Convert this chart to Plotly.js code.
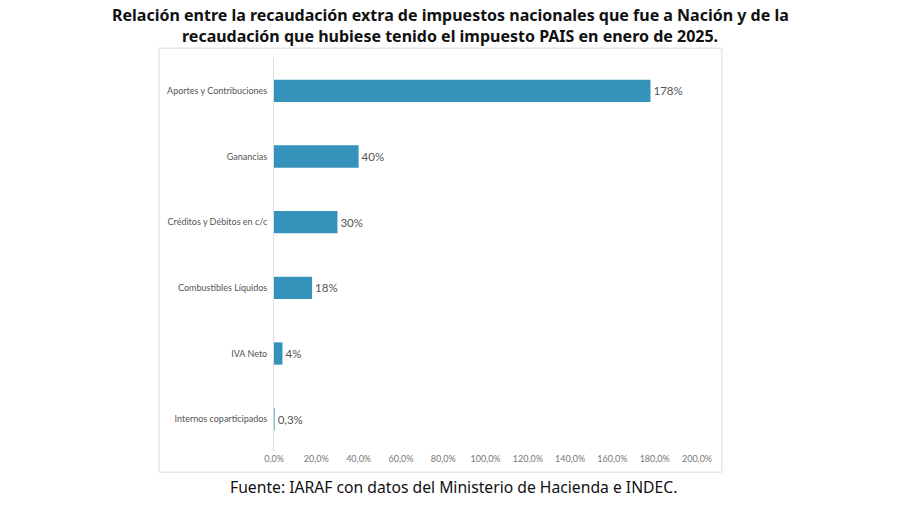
<!DOCTYPE html>
<html>
<head>
<meta charset="utf-8">
<script src="https://cdn.plot.ly/plotly-3.0.1.min.js"></script>
<style>html,body{margin:0;padding:0;background:#fff;}#chart{width:900px;height:505px;}</style>
</head>
<body>
<div id="chart"></div>
<script>
var categories = ["Aportes y Contribuciones", "Ganancias", "Créditos y Débitos en c/c", "Combustibles Líquidos", "IVA Neto", "Internos coparticipados"];
var values = [178, 40, 30, 18, 4, 0.3];
var valueLabels = ["178%", "40%", "30%", "18%", "4%", "0,3%"];
var tickValues = [0, 20, 40, 60, 80, 100, 120, 140, 160, 180, 200];
var tickLabels = ["0,0%", "20,0%", "40,0%", "60,0%", "80,0%", "100,0%", "120,0%", "140,0%", "160,0%", "180,0%", "200,0%"];

var trace = {
  type: "bar",
  orientation: "h",
  y: categories,
  x: values,
  text: valueLabels,
  textposition: "outside",
  cliponaxis: false,
  textfont: {family: "Lato, 'Liberation Sans', sans-serif", size: 11.5, color: "#555555"},
  marker: {color: "#3593bb"},
  width: 0.34,
  hoverinfo: "none"
};

var layout = {
  width: 900, height: 505,
  margin: {l: 274, r: 203, t: 58, b: 53},
  paper_bgcolor: "#ffffff",
  plot_bgcolor: "#ffffff",
  showlegend: false,
  xaxis: {
    range: [0, 200],
    tickvals: tickValues,
    ticktext: tickLabels,
    showgrid: false,
    zeroline: false,
    showline: false,
    ticks: "",
    tickfont: {family: "Lato, 'Liberation Sans', sans-serif", size: 9, color: "#777777"},
    fixedrange: true
  },
  yaxis: {
    autorange: "reversed",
    showgrid: false,
    zeroline: false,
    showline: true,
    linecolor: "#dddddd",
    linewidth: 1,
    ticks: "",
    ticklen: 0,
    ticklabelstandoff: 4,
    tickfont: {family: "Lato, 'Liberation Sans', sans-serif", size: 9, color: "#555555"},
    automargin: false,
    fixedrange: true
  },
  shapes: [
    {type: "rect", xref: "paper", yref: "paper", x0: -0.272, x1: 1.059, y0: -0.051, y1: 1.025,
     line: {color: "#d9d9d9", width: 1}, fillcolor: "rgba(0,0,0,0)"}
  ],
  annotations: [
    {xref: "paper", yref: "paper", x: (450 - 274) / 423, y: (452 - 15) / 394, xanchor: "center", yanchor: "middle",
     text: "<b>Relación entre la recaudación extra de impuestos nacionales que fue a Nación y de la</b>",
     showarrow: false, font: {family: "'Noto Sans', 'Open Sans', sans-serif", size: 16, color: "#111111"}},
    {xref: "paper", yref: "paper", x: (450 - 274) / 423, y: (452 - 36) / 394, xanchor: "center", yanchor: "middle",
     text: "<b>recaudación que hubiese tenido el impuesto PAIS en enero de 2025.</b>",
     showarrow: false, font: {family: "'Noto Sans', 'Open Sans', sans-serif", size: 16, color: "#111111"}},
    {xref: "paper", yref: "paper", x: (453 - 274) / 423, y: (452 - 487) / 394, xanchor: "center", yanchor: "middle",
     text: "Fuente: IARAF con datos del Ministerio de Hacienda e INDEC.",
     showarrow: false, font: {family: "'Noto Sans', 'Open Sans', sans-serif", size: 15.7, color: "#111111"}}
  ]
};

Plotly.newPlot("chart", [trace], layout, {displayModeBar: false, staticPlot: true});
</script>
</body>
</html>
